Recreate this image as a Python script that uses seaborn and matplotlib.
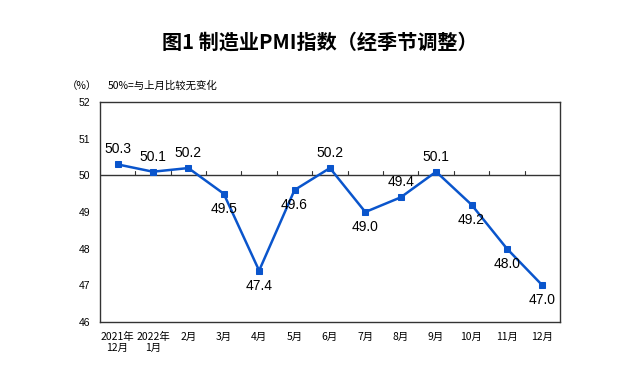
import matplotlib
matplotlib.use("Agg")
import matplotlib.pyplot as plt
import seaborn as sns
import pandas as pd
import numpy as np

months = ["2021年\n12月", "2022年\n1月", "2月", "3月", "4月", "5月", "6月",
          "7月", "8月", "9月", "10月", "11月", "12月"]
pmi = [50.3, 50.1, 50.2, 49.5, 47.4, 49.6, 50.2, 49.0, 49.4, 50.1, 49.2, 48.0, 47.0]
label_pos = ["above", "above", "above", "below", "below", "below", "above",
             "below", "above", "above", "below", "below", "below"]

sns.set_style("white")
plt.rcParams['font.family'] = ['Noto Sans CJK SC', 'DejaVu Sans']
plt.rcParams['text.color'] = 'black'
plt.rcParams['xtick.color'] = 'black'
plt.rcParams['ytick.color'] = 'black'

df = pd.DataFrame({"idx": np.arange(len(months)), "pmi": pmi})

fig = plt.figure(figsize=(6.4, 3.7), dpi=100)
ax = fig.add_axes([0.156, 0.130, 0.719, 0.594])

line_color = "#0a55cc"
sns.lineplot(data=df, x="idx", y="pmi", ax=ax, color=line_color, linewidth=1.8,
             marker="s", markersize=5, markeredgecolor=line_color)

ax.set_xlim(-0.5, len(months) - 0.5)
ax.set_ylim(46, 52)
ax.set_yticks(range(46, 53))
ax.set_yticklabels([str(v) for v in range(46, 53)], fontsize=7.5, family="Liberation Sans")
ax.tick_params(axis="y", length=0, pad=7)
ax.set_xticks(np.arange(len(months)))
ax.set_xticklabels(months, fontsize=7.5)
ax.tick_params(axis="x", length=0, pad=7)
ax.set_xlabel("")
ax.set_ylabel("")

for s in ax.spines.values():
    s.set_color("#333333")
    s.set_linewidth(1.0)

# 50 reference line with boundary ticks
ax.axhline(50, color="#333333", linewidth=1.0, zorder=1)
for b in np.arange(0.5, len(months) - 0.5, 1):
    ax.plot([b, b], [50, 50.12], color="#333333", linewidth=0.8, zorder=1)

for i, (v, pos) in enumerate(zip(pmi, label_pos)):
    dy = 0.22 if pos == "above" else -0.22
    va = "bottom" if pos == "above" else "top"
    ax.text(i, v + dy, f"{v:.1f}", ha="center", va=va, fontsize=10,
            family="Liberation Sans", color="black")

fig.text(0.5, 0.886, "图1 制造业PMI指数（经季节调整）", ha="center", va="center",
         fontsize=14.5, fontweight="bold", color="black")
fig.text(0.128, 0.768, "（%）", ha="center", va="center", fontsize=7.5)
fig.text(0.168, 0.768, "50%=与上月比较无变化", ha="left", va="center", fontsize=7.5)

fig.savefig("out.png", dpi=100)
